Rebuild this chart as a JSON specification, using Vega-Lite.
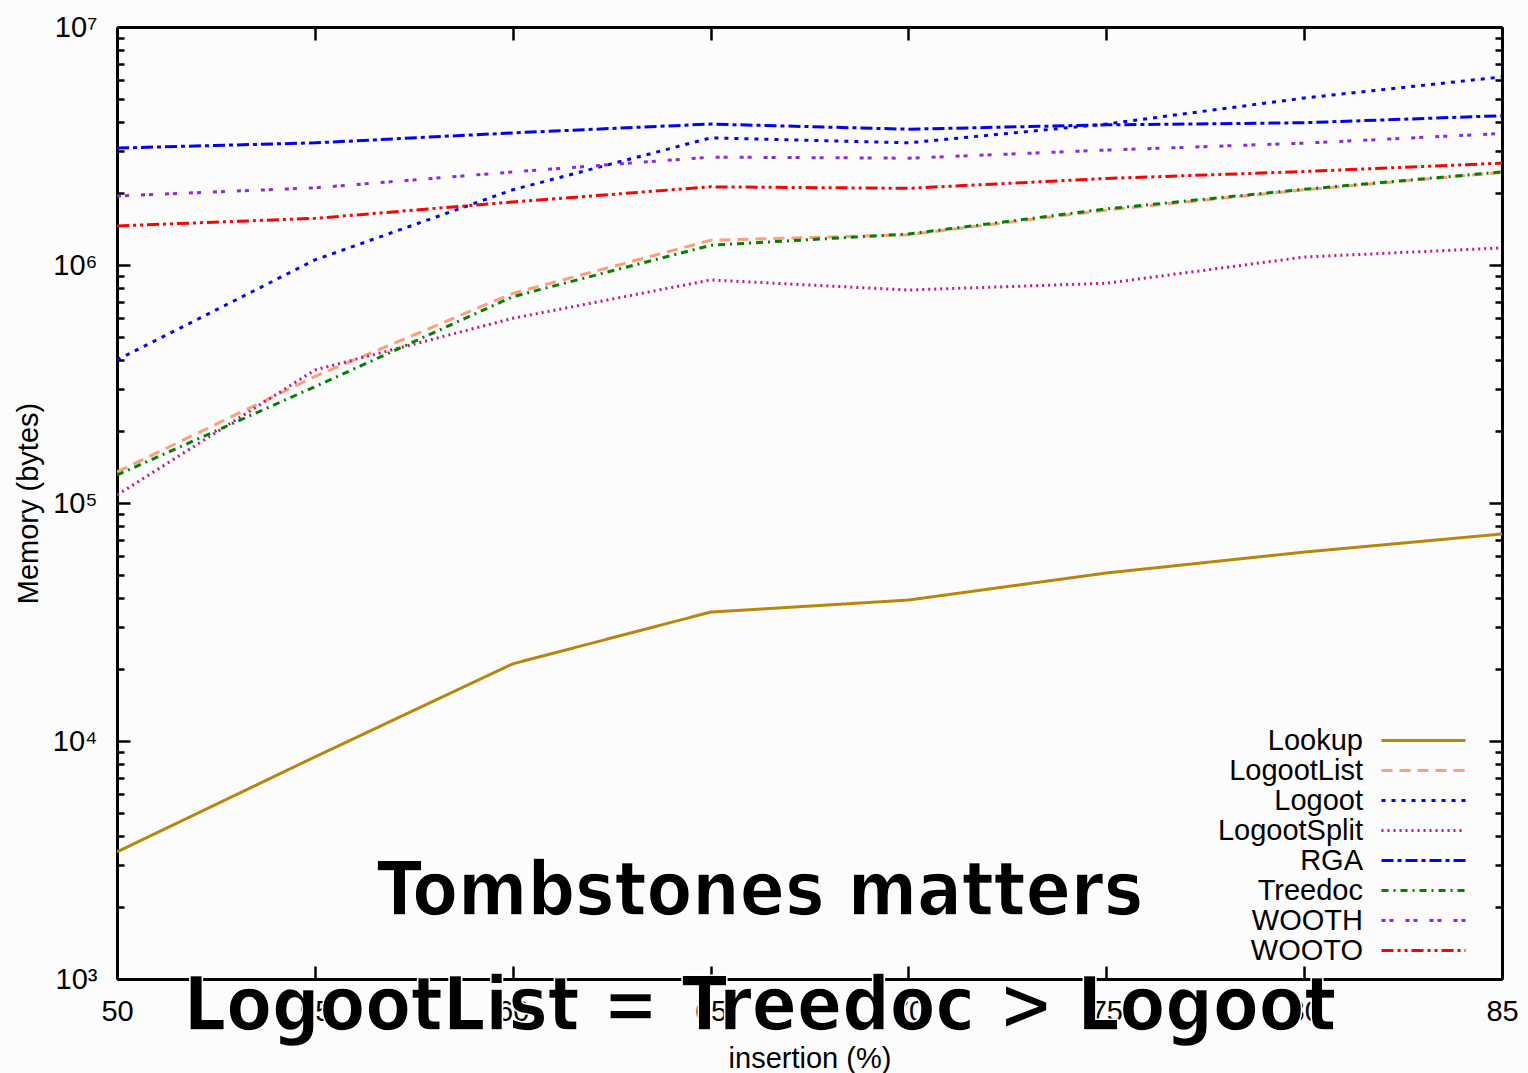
{
  "$schema": "https://vega.github.io/schema/vega-lite/v6.json",
  "width": 1385,
  "height": 952,
  "autosize": {"type": "none"},
  "padding": {"left": 117, "top": 27, "right": 26, "bottom": 94},
  "background": "#fcfcfc",
  "datasets": {
    "mem": [
      {"x": 50, "series": "Lookup", "mem": 3420},
      {"x": 55, "series": "Lookup", "mem": 8570},
      {"x": 60, "series": "Lookup", "mem": 21100},
      {"x": 65, "series": "Lookup", "mem": 34800},
      {"x": 70, "series": "Lookup", "mem": 39100},
      {"x": 75, "series": "Lookup", "mem": 50800},
      {"x": 80, "series": "Lookup", "mem": 62200},
      {"x": 85, "series": "Lookup", "mem": 74100},
      {"x": 50, "series": "LogootList", "mem": 135000},
      {"x": 55, "series": "LogootList", "mem": 340000},
      {"x": 60, "series": "LogootList", "mem": 760000},
      {"x": 65, "series": "LogootList", "mem": 1270000},
      {"x": 70, "series": "LogootList", "mem": 1340000},
      {"x": 75, "series": "LogootList", "mem": 1700000},
      {"x": 80, "series": "LogootList", "mem": 2070000},
      {"x": 85, "series": "LogootList", "mem": 2450000},
      {"x": 50, "series": "Logoot", "mem": 399000},
      {"x": 55, "series": "Logoot", "mem": 1050000},
      {"x": 60, "series": "Logoot", "mem": 2070000},
      {"x": 65, "series": "Logoot", "mem": 3420000},
      {"x": 70, "series": "Logoot", "mem": 3260000},
      {"x": 75, "series": "Logoot", "mem": 3910000},
      {"x": 80, "series": "Logoot", "mem": 5030000},
      {"x": 85, "series": "Logoot", "mem": 6170000},
      {"x": 50, "series": "LogootSplit", "mem": 108000},
      {"x": 55, "series": "LogootSplit", "mem": 362000},
      {"x": 60, "series": "LogootSplit", "mem": 597000},
      {"x": 65, "series": "LogootSplit", "mem": 865000},
      {"x": 70, "series": "LogootSplit", "mem": 785000},
      {"x": 75, "series": "LogootSplit", "mem": 838000},
      {"x": 80, "series": "LogootSplit", "mem": 1080000},
      {"x": 85, "series": "LogootSplit", "mem": 1180000},
      {"x": 50, "series": "RGA", "mem": 3100000},
      {"x": 55, "series": "RGA", "mem": 3260000},
      {"x": 60, "series": "RGA", "mem": 3590000},
      {"x": 65, "series": "RGA", "mem": 3910000},
      {"x": 70, "series": "RGA", "mem": 3720000},
      {"x": 75, "series": "RGA", "mem": 3880000},
      {"x": 80, "series": "RGA", "mem": 3960000},
      {"x": 85, "series": "RGA", "mem": 4240000},
      {"x": 50, "series": "Treedoc", "mem": 131000},
      {"x": 55, "series": "Treedoc", "mem": 308000},
      {"x": 60, "series": "Treedoc", "mem": 736000},
      {"x": 65, "series": "Treedoc", "mem": 1210000},
      {"x": 70, "series": "Treedoc", "mem": 1350000},
      {"x": 75, "series": "Treedoc", "mem": 1720000},
      {"x": 80, "series": "Treedoc", "mem": 2080000},
      {"x": 85, "series": "Treedoc", "mem": 2460000},
      {"x": 50, "series": "WOOTH", "mem": 1950000},
      {"x": 55, "series": "WOOTH", "mem": 2110000},
      {"x": 60, "series": "WOOTH", "mem": 2460000},
      {"x": 65, "series": "WOOTH", "mem": 2840000},
      {"x": 70, "series": "WOOTH", "mem": 2810000},
      {"x": 75, "series": "WOOTH", "mem": 3040000},
      {"x": 80, "series": "WOOTH", "mem": 3250000},
      {"x": 85, "series": "WOOTH", "mem": 3570000},
      {"x": 50, "series": "WOOTO", "mem": 1460000},
      {"x": 55, "series": "WOOTO", "mem": 1570000},
      {"x": 60, "series": "WOOTO", "mem": 1840000},
      {"x": 65, "series": "WOOTO", "mem": 2130000},
      {"x": 70, "series": "WOOTO", "mem": 2100000},
      {"x": 75, "series": "WOOTO", "mem": 2310000},
      {"x": 80, "series": "WOOTO", "mem": 2470000},
      {"x": 85, "series": "WOOTO", "mem": 2680000}
    ],
    "notes": [
      {"x": 66.25, "mem": 1858, "label": "Tombstones matters"},
      {"x": 66.25, "mem": 611, "label": "LogootList = Treedoc > Logoot"}
    ]
  },
  "layer": [
    {
      "data": {"name": "mem"},
      "mark": {"type": "line", "strokeWidth": 3, "clip": true},
      "encoding": {
        "x": {
          "field": "x", "type": "quantitative",
          "scale": {"domain": [50, 85], "nice": false, "zero": false},
          "axis": {
            "orient": "bottom",
            "values": [50, 55, 60, 65, 70, 75, 80, 85],
            "tickSize": -13,
            "labelPadding": 31,
            "labelFlush": false,
            "title": "insertion (%)",
            "titlePadding": 18
          }
        },
        "y": {
          "field": "mem", "type": "quantitative",
          "scale": {"type": "log", "domain": [1000, 10000000], "nice": false},
          "axis": {
            "orient": "left",
            "values": [1000, 2000, 3000, 4000, 5000, 6000, 7000, 8000, 9000,
                       10000, 20000, 30000, 40000, 50000, 60000, 70000, 80000, 90000,
                       100000, 200000, 300000, 400000, 500000, 600000, 700000, 800000, 900000,
                       1000000, 2000000, 3000000, 4000000, 5000000, 6000000, 7000000, 8000000, 9000000,
                       10000000],
            "labelExpr": "datum.value == 1000 ? '10³' : datum.value == 10000 ? '10⁴' : datum.value == 100000 ? '10⁵' : datum.value == 1000000 ? '10⁶' : datum.value == 10000000 ? '10⁷' : ''",
            "tickSize": {"condition": {"test": "datum.value == 1000 || datum.value == 10000 || datum.value == 100000 || datum.value == 1000000 || datum.value == 10000000", "value": -13}, "value": -7},
            "labelPadding": 33,
            "labelFlush": false,
            "labelOverlap": false,
            "title": "Memory (bytes)",
            "titlePadding": 9
          }
        },
        "color": {
          "field": "series", "type": "nominal",
          "scale": {
            "domain": ["Lookup", "LogootList", "Logoot", "LogootSplit", "RGA", "Treedoc", "WOOTH", "WOOTO"],
            "range": ["#b8860b", "#ffa07a", "#0000ff", "#c71585", "#0000ff", "#008000", "#8a2be2", "#ff0000"]
          },
          "legend": {"title": null}
        },
        "strokeDash": {
          "field": "series", "type": "nominal",
          "scale": {
            "domain": ["Lookup", "LogootList", "Logoot", "LogootSplit", "RGA", "Treedoc", "WOOTH", "WOOTO"],
            "range": [[1, 0], [11, 7], [4, 6], [2, 4], [12, 4, 4, 4], [7, 5, 2, 5], [4, 4, 4, 12], [12, 4, 3, 4, 3, 4]]
          },
          "legend": {"title": null}
        }
      }
    },
    {
      "data": {"name": "mem"},
      "mark": {"type": "line", "strokeOpacity": 0},
      "encoding": {
        "x": {
          "field": "x", "type": "quantitative",
          "axis": {
            "orient": "top",
            "values": [50, 55, 60, 65, 70, 75, 80, 85],
            "tickSize": -13,
            "labels": false,
            "title": null
          }
        },
        "y": {
          "field": "mem", "type": "quantitative",
          "axis": {
            "orient": "right",
            "values": [1000, 2000, 3000, 4000, 5000, 6000, 7000, 8000, 9000,
                       10000, 20000, 30000, 40000, 50000, 60000, 70000, 80000, 90000,
                       100000, 200000, 300000, 400000, 500000, 600000, 700000, 800000, 900000,
                       1000000, 2000000, 3000000, 4000000, 5000000, 6000000, 7000000, 8000000, 9000000,
                       10000000],
            "tickSize": {"condition": {"test": "datum.value == 1000 || datum.value == 10000 || datum.value == 100000 || datum.value == 1000000 || datum.value == 10000000", "value": -13}, "value": -7},
            "labels": false,
            "title": null
          }
        }
      }
    },
    {
      "data": {"name": "notes"},
      "mark": {
        "type": "text",
        "font": "DejaVu Sans Condensed",
        "fontWeight": "bold",
        "fontSize": 74,
        "align": "center",
        "baseline": "alphabetic",
        "color": "black",
        "stroke": "white",
        "strokeWidth": 1.5,
        "clip": false
      },
      "encoding": {
        "x": {"field": "x", "type": "quantitative", "axis": null},
        "y": {"field": "mem", "type": "quantitative", "axis": null},
        "text": {"field": "label"}
      }
    }
  ],
  "resolve": {"axis": {"x": "independent", "y": "independent"}},
  "config": {
    "view": {"stroke": null},
    "axis": {
      "grid": false,
      "domainColor": "black",
      "domainWidth": 3,
      "tickColor": "black",
      "tickWidth": 2.5,
      "labelFont": "Liberation Sans",
      "labelFontSize": 29,
      "labelColor": "black",
      "titleFont": "Liberation Sans",
      "titleFontSize": 29,
      "titleFontWeight": "normal",
      "titleColor": "black"
    },
    "legend": {
      "orient": "none",
      "legendX": 1292,
      "legendY": 699,
      "padding": 0,
      "rowPadding": 0,
      "symbolType": "M-4,0L4,0",
      "symbolSize": 441,
      "symbolStrokeWidth": 3,
      "labelAlign": "right",
      "labelOffset": -75,
      "labelFont": "Liberation Sans",
      "labelFontSize": 29,
      "labelColor": "black",
      "labelLimit": 300
    }
  }
}
